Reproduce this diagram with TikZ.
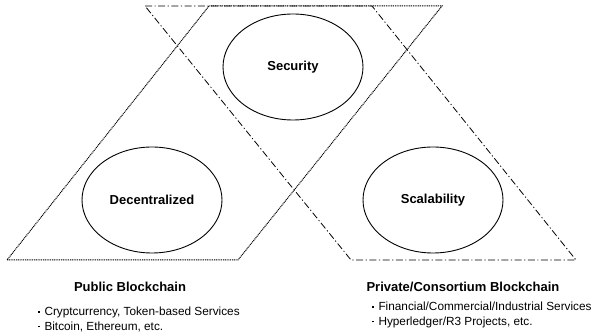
\documentclass[tikz,border=0pt]{standalone}
\usepackage{fontspec}
\setmainfont{Liberation Sans}
\usetikzlibrary{shapes.geometric}

% small square bullet in front of each use case
\newcommand{\usedot}{\raisebox{3pt}{\rule{1.8pt}{1.8pt}}\hspace{4.5pt}}

\tikzset{
  goal/.style = {ellipse, draw, line width=0.9pt, minimum width=140pt, minimum height=106pt, font=\fontsize{13}{15}\selectfont\bfseries},
  chainname/.style = {font=\fontsize{13}{15}\selectfont\bfseries},
  usecase/.style = {font=\fontsize{11.8}{14.8}\selectfont, align=left, inner sep=0pt},
  publicline/.style = {line width=1pt, dash pattern=on 1pt off 0.8pt},
  privateline/.style = {line width=0.8pt, dash pattern=on 7pt off 2.5pt on 1.2pt off 2.5pt}
}

\begin{document}
\begin{tikzpicture}[x=1pt, y=-1pt]
  \useasboundingbox (0,0) rectangle (595,336);
  \begin{scope}
    %%+++++++++++++++++++++++++
    % Variables
    % top and bottom of the two areas
    \pgfmathsetmacro{\ytop}{6}
    \pgfmathsetmacro{\ybot}{260}
    % horizontal shift of the slanted sides
    \pgfmathsetmacro{\slant}{204}
    %%+++++++++++++++++++++++++
    % Drawing
    % Public area (dotted)
    \draw[publicline] (7,\ybot) -- (238,\ybot) -- (238+\slant,\ytop) -- (7+\slant-2,\ytop) -- cycle;
    % Private area (dash dot)
    \draw[privateline] (145,\ytop) -- (372,\ytop) -- (372+\slant,\ybot) -- (145+\slant+2,\ybot) -- cycle;
    % Properties
    \node[goal] (security) at (293,67) {Security};
    \node[goal] (decentral) at (152,200) {Decentralized};
    \node[goal] (scale) at (433,200) {Scalability};
    % Names
    \node[chainname] (public) at (130,287) {Public Blockchain};
    \node[chainname] (private) at (463,286.5) {Private/Consortium Blockchain};
    % Use cases
    \node[usecase, anchor=west] (pubuse) at (38,319.5) {%
      \usedot Cryptcurrency,\ Token-based Services\\
      \usedot Bitcoin, Ethereum, etc.};
    \node[usecase, anchor=west] (privuse) at (372,315) {%
      \usedot Financial/Commercial/Industrial Services\\
      \usedot Hyperledger/R3 Projects, etc.};
  \end{scope}
\end{tikzpicture}
\end{document}
